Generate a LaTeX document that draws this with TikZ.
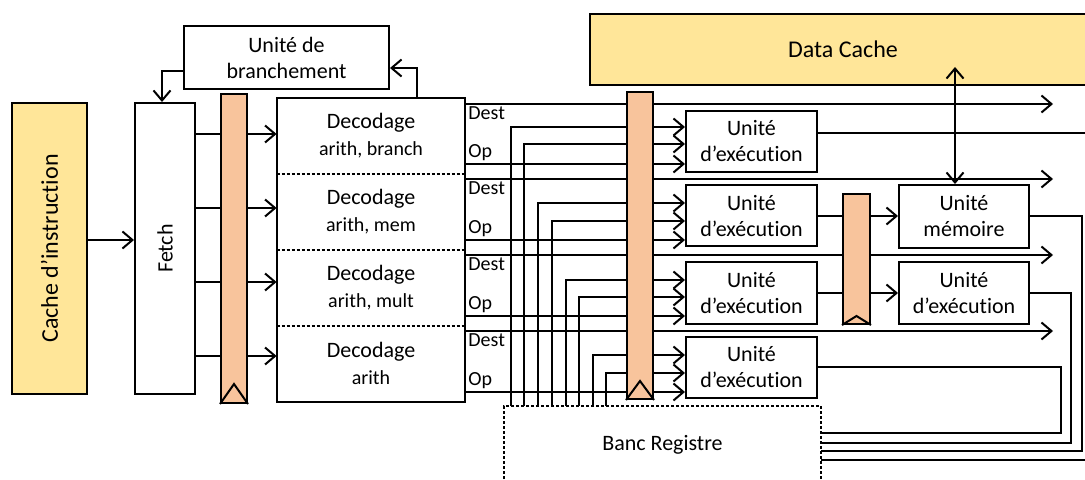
\documentclass[tikz,border=0pt]{standalone}
\usepackage{fontspec}
\setmainfont{Carlito}[Ligatures=NoCommon]
\usetikzlibrary{positioning,arrows.meta}

\definecolor{cacheyellow}{HTML}{FFE699}
\definecolor{regorange}{HTML}{F8C49C}
\newcommand\decsub[1]{{\fontsize{10}{12}\selectfont #1}}

\tikzset{
  box/.style={draw,line width=1pt,align=center,inner sep=1pt,font=\fontsize{11}{13}\selectfont},
  cachebox/.style={box,fill=cacheyellow,font=\fontsize{12}{14}\selectfont},
  unitbox/.style={box,minimum width=65.5pt,minimum height=30.5pt},
  decbox/.style={align=center,inner sep=0pt,minimum width=94pt,minimum height=37.6pt,font=\fontsize{11}{13.5}\selectfont},
  regbox/.style={draw,line width=1pt,fill=regorange,inner sep=0pt},
  wire/.style={line width=1pt},
  arr/.style={wire,-{Straight Barb[length=5pt,width=8.5pt]}},
  sig/.style={font=\fontsize{10}{11}\selectfont,inner sep=1pt},
  sep/.style={line width=1pt,dash pattern=on 1.5pt off 1pt},
}

\begin{document}
\begin{tikzpicture}[x=0.5pt,y=-0.5pt]
\useasboundingbox (0,0) rectangle (1085,480);
\clip (0,0) rectangle (1085,480);
% front end
\node[cachebox,minimum width=37.5pt,minimum height=145.5pt] (icache) at (49.5,248.5) {\rotatebox{90}{Cache d’instruction}};
\node[box,minimum width=30pt,minimum height=145.5pt] (fetch) at (165,248.5) {\rotatebox{90}{Fetch}};
\node[box,minimum width=102.5pt,minimum height=31.5pt] (branch) at (286.5,57.5) {Unité de\\branchement};
\draw[arr] (icache.east |- 0,240) -- (fetch.west |- 0,240);
% decode stages
\node[decbox] (dec1) at (371,135.6) {Decodage\\\decsub{arith, branch}};
\node[decbox,below=0pt of dec1] (dec2) {Decodage\\\decsub{arith, mem}};
\node[decbox,below=0pt of dec2] (dec3) {Decodage\\\decsub{arith, mult}};
\node[decbox,below=0pt of dec3] (dec4) {Decodage\\\decsub{arith}};
\draw[wire] (dec1.north west) rectangle (dec4.south east);
\foreach \n in {1,2,3}
  \draw[sep] (dec\n.south west) -- (dec\n.south east);
\foreach \y in {134,208,282,356}
  \draw[arr] (fetch.east |- 0,\y) -- (dec1.west |- 0,\y);
\draw[arr] ([xshift=23pt]dec1.north) |- (branch.east |- 0,68);
\draw[arr] (branch.west |- 0,71) -| ([xshift=-1.5pt]fetch.north);
% execution side
\node[cachebox,minimum width=253pt,minimum height=35.5pt] (dcache) at (843,49.5) {Data Cache};
\node[unitbox] (u1) at (751.5,141.5) {Unité\\d’exécution};
\node[unitbox] (u2) at (751.5,216) {Unité\\d’exécution};
\node[unitbox] (u3) at (751.5,293) {Unité\\d’exécution};
\node[unitbox] (u4) at (751.5,367) {Unité\\d’exécution};
\node[unitbox,minimum width=65pt,minimum height=31.5pt] (mem) at (964,216.5) {Unité\\mémoire};
\node[unitbox,minimum width=65pt,minimum height=31pt] (u5) at (964,293) {Unité\\d’exécution};
\node[box,draw=none,minimum width=157.5pt,minimum height=38pt] (banc) at (662.5,445) {Banc Registre};
\draw[sep] (banc.south west) -- (banc.north west) -- (banc.north east) -- (banc.south east);
\coordinate (rend) at (1053,0);
\coordinate (dcport) at (955,67);
\foreach \yd/\yo/\u in {104/164/u1,179/240/u2,255/316/u3,331/392/u4} {
  \draw[arr] (dec1.east |- 0,\yd) node[sig,anchor=north west] {Dest} -- (rend |- 0,\yd);
  \draw[arr] (dec1.east |- 0,\yo) node[sig,anchor=south west] {Op} -- (\u.west |- 0,\yo);
}
\foreach \u/\xa/\ya/\xb/\yb in {u1/511/127/524/144,u2/538/203/552/221,u3/566/280/579/297,u4/593/355/606/373} {
  \draw[arr] (banc.north -| \xa,0) |- (\u.west |- 0,\ya);
  \draw[arr] (banc.north -| \xb,0) |- (\u.west |- 0,\yb);
}
\draw[arr] (u2.east) -- (u2.east -| mem.west);
\draw[arr] (u3.east) -- (u5.west);
\draw[wire,{Straight Barb[length=5pt,width=8.5pt]}-{Straight Barb[length=5pt,width=8.5pt]}] (dcport |- mem.north) -- (dcport);
% write back
\coordinate (ret1) at (1095,460);
\coordinate (ret2) at (1082,451);
\coordinate (ret3) at (1071,443);
\coordinate (ret4) at (1061,433);
\draw[wire] (u1.east |- 0,133) -| (ret1) -- (banc.east |- ret1);
\draw[wire] (mem.east) -| (ret2) -- (banc.east |- ret2);
\draw[wire] (u5.east) -| (ret3) -- (banc.east |- ret3);
\draw[wire] (u4.east) -| (ret4) -- (banc.east |- ret4);
% pipeline registers
\node[regbox,minimum width=13pt,minimum height=154.5pt] (reg1) at (234,248.5) {};
\draw[wire] (reg1.south west) -- ([yshift=10pt]reg1.south) -- (reg1.south east);
\node[regbox,minimum width=13pt,minimum height=153.5pt] (reg2) at (640,245.5) {};
\draw[wire] (reg2.south west) -- ([yshift=9.5pt]reg2.south) -- (reg2.south east);
\node[regbox,minimum width=13.5pt,minimum height=65pt] (reg3) at (856.5,259) {};
\draw[wire] (reg3.south west) -- ([yshift=4.5pt]reg3.south) -- (reg3.south east);
\end{tikzpicture}
\end{document}
